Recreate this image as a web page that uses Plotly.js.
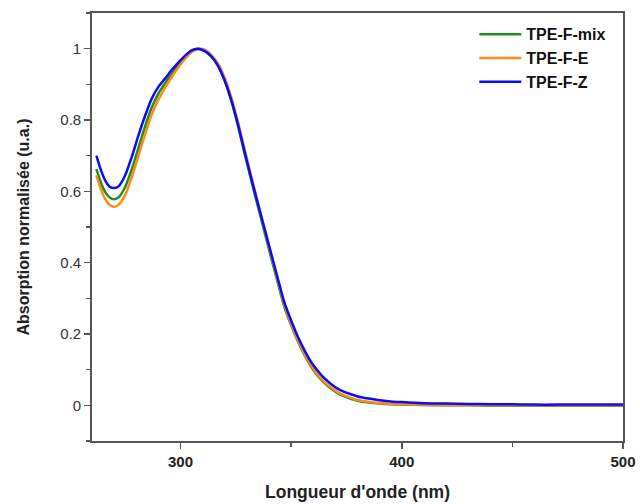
<!DOCTYPE html>
<html>
<head>
<meta charset="utf-8">
<script src="https://cdn.plot.ly/plotly-3.0.1.min.js"></script>
<style>
html,body{margin:0;padding:0;background:#fff;}
#chart{width:640px;height:504px;}
</style>
</head>
<body>
<div id="chart"></div>
<script>
var wavelength = [262,264,266,268,270,272,275,278,281,284,287,290,293,296,299,302,305,308,311,314,317,320,323,326,329,332,335,338,341,344,347,350,353,356,359,362,365,368,371,374,377,380,385,390,395,400,410,420,430,440,450,460,470,480,490,500];

var tpeMix = [0.662,0.625,0.598,0.583,0.578,0.583,0.612,0.662,0.722,0.782,0.835,0.874,0.903,0.930,0.955,0.977,0.994,1.000,0.994,0.977,0.952,0.910,0.853,0.783,0.705,0.630,0.557,0.485,0.413,0.343,0.275,0.225,0.180,0.142,0.109,0.083,0.063,0.047,0.034,0.025,0.018,0.013,0.008,0.005,0.003,0.002,0.001,0.000,0.000,-0.001,-0.001,-0.001,-0.001,-0.001,-0.001,-0.001];

var tpeE = [0.645,0.607,0.578,0.562,0.557,0.562,0.590,0.640,0.700,0.760,0.815,0.857,0.890,0.920,0.947,0.971,0.990,0.999,0.997,0.982,0.958,0.918,0.863,0.795,0.718,0.642,0.568,0.495,0.422,0.350,0.281,0.229,0.183,0.145,0.112,0.086,0.066,0.050,0.037,0.028,0.021,0.015,0.010,0.006,0.004,0.003,0.002,0.001,0.001,0.000,0.000,0.000,0.000,0.000,0.000,0.000];

var tpeZ = [0.700,0.660,0.630,0.613,0.609,0.614,0.645,0.697,0.757,0.812,0.860,0.893,0.916,0.940,0.961,0.980,0.995,1.000,0.993,0.978,0.952,0.910,0.855,0.787,0.710,0.636,0.565,0.495,0.425,0.355,0.287,0.238,0.193,0.155,0.122,0.097,0.076,0.060,0.047,0.038,0.031,0.025,0.019,0.014,0.011,0.009,0.006,0.005,0.004,0.003,0.003,0.002,0.002,0.002,0.002,0.002];

var seriesNames = ["TPE-F-mix","TPE-F-E","TPE-F-Z"];
var seriesColors = ["#1f8f1f","#ff8a14","#0a0aff"];
var seriesData = [tpeMix, tpeE, tpeZ];

var xTickVals = [300,400,500];
var yTickVals = [0,0.2,0.4,0.6,0.8,1];
var yTickText = ["0","0.2","0.4","0.6","0.8","1"];

var traces = seriesData.map(function(d,i){
  return {
    x: wavelength, y: d, type: "scatter", mode: "lines",
    name: seriesNames[i],
    line: {color: seriesColors[i], width: 2.5, shape: "spline", smoothing: 0.6}
  };
});

var fontFam = "Arial, 'Liberation Sans', sans-serif";

var layout = {
  width: 640, height: 504,
  margin: {l: 92, r: 17, t: 13, b: 63},
  paper_bgcolor: "#fff", plot_bgcolor: "#fff",
  showlegend: true,
  legend: {
    x: 0.72, xanchor: "left", y: 0.99, yanchor: "top",
    itemwidth: 42,
    font: {family: fontFam, size: 16, color: "#111", weight: "bold"},
    bgcolor: "rgba(0,0,0,0)", tracegroupgap: 0
  },
  xaxis: {
    range: [260, 500],
    tickvals: xTickVals,
    ticks: "outside", ticklen: 6, tickwidth: 1.5, tickcolor: "#555",
    minor: {dtick: 50, tick0: 250, ticks: "outside", ticklen: 4, tickwidth: 1.5, tickcolor: "#555", showgrid: false},
    showline: true, linecolor: "#555", linewidth: 1.8, mirror: true,
    showgrid: false, zeroline: false,
    tickfont: {family: fontFam, size: 15, color: "#222", weight: "bold"},
    title: {text: "Longueur d'onde (nm)", font: {family: fontFam, size: 17.5, color: "#222", weight: "bold"}, standoff: 17}
  },
  yaxis: {
    range: [-0.1, 1.1],
    tickvals: yTickVals, ticktext: yTickText,
    ticks: "outside", ticklen: 6, tickwidth: 1.5, tickcolor: "#555",
    minor: {dtick: 0.1, tick0: 0, ticks: "outside", ticklen: 4, tickwidth: 1.5, tickcolor: "#555", showgrid: false},
    showline: true, linecolor: "#555", linewidth: 1.8, mirror: true,
    showgrid: false, zeroline: false,
    tickfont: {family: fontFam, size: 15, color: "#333"},
    title: {text: "Absorption normalisée (u.a.)", font: {family: fontFam, size: 16, color: "#222", weight: "bold"}, standoff: 27}
  }
};

Plotly.newPlot("chart", traces, layout, {displayModeBar: false, staticPlot: true});
</script>
</body>
</html>
